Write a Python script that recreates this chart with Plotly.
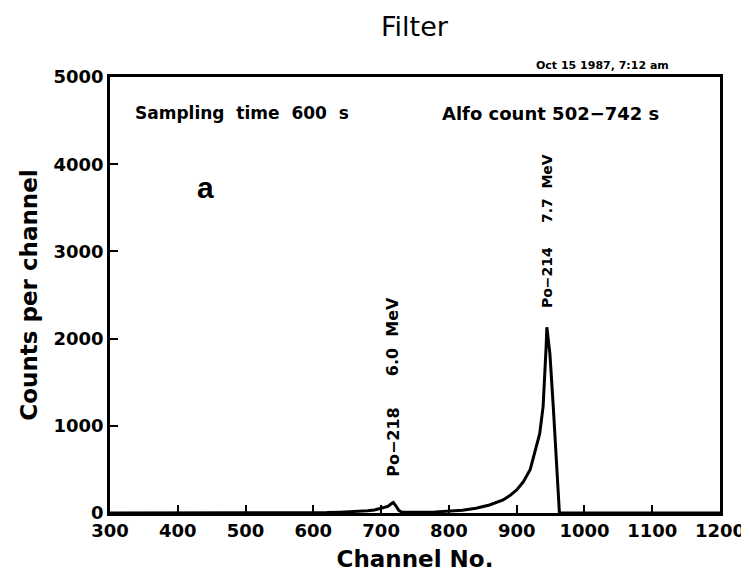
import plotly.graph_objects as go

channels = [300, 400, 500, 600, 620, 640, 660, 680, 690, 700, 705, 710, 715, 718,
            722, 726, 730, 740, 760, 780, 800, 820, 840, 860, 880, 890, 900, 910,
            920, 927, 934, 939, 942, 943.5, 944.5, 947, 949, 954, 959, 963, 966,
            1000, 1100, 1200]
counts = [0, 0, 0, 2, 5, 10, 15, 25, 35, 55, 60, 75, 105, 120,
          80, 30, 12, 8, 8, 12, 20, 32, 55, 92, 150, 200, 265, 360,
          500, 720, 910, 1220, 1600, 1910, 2130, 1950, 1830, 1220, 460, 10, 0,
          0, 0, 0]

x_ticks = [300, 400, 500, 600, 700, 800, 900, 1000, 1100, 1200]
y_ticks = [0, 1000, 2000, 3000, 4000, 5000]

title_text = "Filter"
x_title = "Channel No."
y_title = "Counts per channel"
date_text = "Oct 15 1987, 7:12 am"
sampling_text = "Sampling\u00a0 time\u00a0 600\u00a0 s"
alfo_text = "Alfo count 502\u2212742 s"
panel_text = "a"
po218_name, po218_energy, po218_ch = "Po\u2212218", "6.0\u00a0 MeV", 718
po214_name, po214_energy, po214_ch = "Po\u2212214", "7.7\u00a0 MeV", 944

BF = "DejaVu Sans"

fig = go.Figure()
fig.add_trace(go.Scatter(x=channels, y=counts, mode="lines",
                         line=dict(color="black", width=3), showlegend=False))

axis_common = dict(showline=True, linecolor="black", linewidth=2.5, mirror=True,
                   ticks="inside", ticklen=8, tickwidth=2, tickcolor="black",
                   showgrid=False, zeroline=False, automargin=False,
                   tickfont=dict(family=BF, size=18, color="black", weight="bold"))

fig.update_xaxes(range=[300, 1200], tickvals=x_ticks, **axis_common,
                 title=dict(text=x_title, standoff=12,
                            font=dict(family=BF, size=23, color="black", weight="bold")))
fig.update_yaxes(range=[0, 5000], tickvals=y_ticks, **axis_common,
                 title=dict(text=y_title, standoff=10,
                            font=dict(family=BF, size=23, color="black", weight="bold")))

ann = []
ann.append(dict(text=title_text, xref="paper", yref="paper", x=0.5, y=1.0, yshift=51,
                showarrow=False, xanchor="center", yanchor="middle",
                font=dict(family=BF, size=27, color="black")))
ann.append(dict(text=date_text, xref="paper", yref="paper", x=0.808, y=1.0, yshift=12,
                showarrow=False, xanchor="center", yanchor="middle",
                font=dict(family=BF, size=11, color="black", weight="bold")))
ann.append(dict(text=sampling_text, xref="paper", yref="paper", x=0.2156, y=0.917,
                showarrow=False, xanchor="center", yanchor="middle",
                font=dict(family=BF, size=17, color="black", weight="bold")))
ann.append(dict(text=alfo_text, xref="paper", yref="paper", x=0.722, y=0.917,
                showarrow=False, xanchor="center", yanchor="middle",
                font=dict(family=BF, size=18, color="black", weight="bold")))
ann.append(dict(text=panel_text, xref="paper", yref="paper", x=0.156, y=0.746,
                showarrow=False, xanchor="center", yanchor="middle",
                font=dict(family="Liberation Sans", size=30, color="black", weight="bold")))
# peak labels (rotated)
ann.append(dict(text=po218_name, x=po218_ch, y=820, showarrow=False, textangle=-90,
                xanchor="center", yanchor="middle",
                font=dict(family=BF, size=16, color="black", weight="bold")))
ann.append(dict(text=po218_energy, x=po218_ch, y=2020, showarrow=False, textangle=-90,
                xanchor="center", yanchor="middle",
                font=dict(family=BF, size=16, color="black", weight="bold")))
ann.append(dict(text=po214_name, x=po214_ch, y=2700, showarrow=False, textangle=-90,
                xanchor="center", yanchor="middle",
                font=dict(family=BF, size=14, color="black", weight="bold")))
ann.append(dict(text=po214_energy, x=po214_ch, y=3720, showarrow=False, textangle=-90,
                xanchor="center", yanchor="middle",
                font=dict(family=BF, size=14, color="black", weight="bold")))

# page body has an 8 px margin, so the figure is sized to fit the window
fig.update_layout(width=741, height=564, annotations=ann,
                  margin=dict(l=102, r=29, t=69, b=59, pad=0),
                  paper_bgcolor="white", plot_bgcolor="white")

fig.write_html("out.html")
